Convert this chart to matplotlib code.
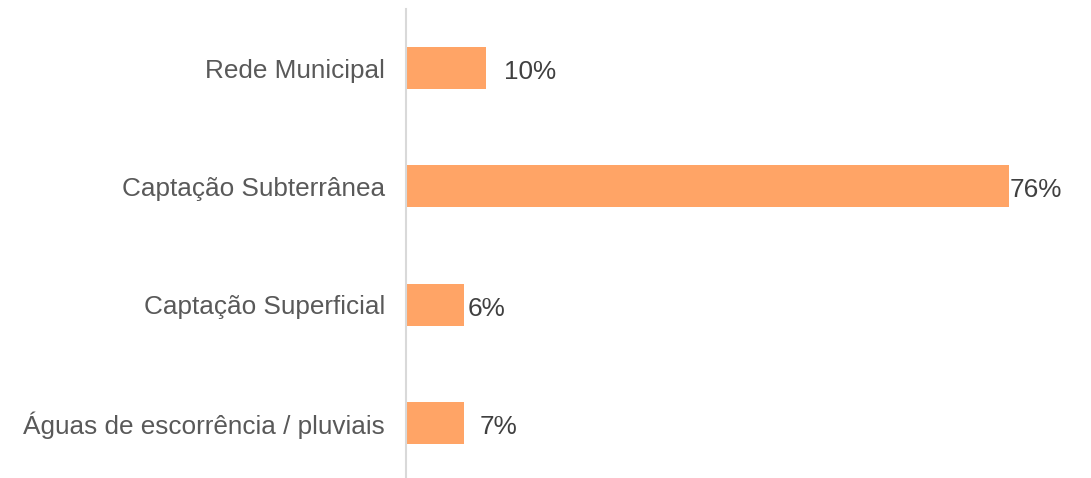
import matplotlib
matplotlib.use('Agg')
import matplotlib.pyplot as plt

# ======================== DATA ========================
categories = ['Rede Municipal', 'Captação Subterrânea', 'Captação Superficial',
              'Águas de escorrência / pluviais']
values = [10.1, 76.0, 7.3, 7.3]          # bar lengths (%)
value_labels = ['10%', '76%', '6%', '7%']  # labels as printed
label_gap_pt = [13, 0.5, 2.5, 11.5]        # gap between bar end and its label

bar_color = '#FFA466'

plt.rcParams['font.family'] = ['Liberation Sans', 'DejaVu Sans']

fig = plt.figure(figsize=(10.91, 4.78), dpi=100)
ax = fig.add_axes([406 / 1091, -4 / 478, 635 / 1091, 473 / 478])

ypos = list(range(len(categories)))
ax.barh(ypos, values, height=0.355, color=bar_color)

for y, v, lab, gap in zip(ypos, values, value_labels, label_gap_pt):
    ax.annotate(lab, (v, y), xytext=(gap, -1), textcoords='offset points',
                ha='left', va='center_baseline', fontsize=18.8, color='#404040')

ax.set_xlim(0, 80)
ax.set_ylim(len(categories) - 0.5, -0.5)
ax.set_yticks(ypos)
ax.set_yticklabels(categories, fontsize=18.8, color='#595959')
ax.tick_params(axis='y', length=0, pad=15)
ax.set_xticks([])

for side in ['top', 'right', 'bottom']:
    ax.spines[side].set_visible(False)
ax.spines['left'].set_color('#D9D9D9')
ax.spines['left'].set_linewidth(1.5)

fig.savefig('out.png', dpi=100)
